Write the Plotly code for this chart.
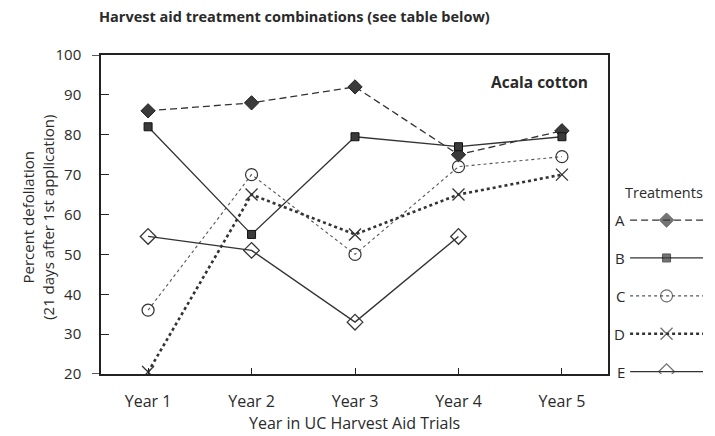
import plotly.graph_objects as go

# Data
years = ['Year 1', 'Year 2', 'Year 3', 'Year 4', 'Year 5']
treat_a = [86, 88, 92, 75, 81]
treat_b = [82, 55, 79.5, 77, 79.5]
treat_c = [36, 70, 50, 72, 74.5]
treat_d = [20.5, 65, 55, 65, 70]
treat_e = [54.5, 51, 33, 54.5, None]
treat_names = ['A', 'B', 'C', 'D', 'E']
y_ticks = [20, 30, 40, 50, 60, 70, 80, 90, 100]

FONT = 'Open Sans'
INK = '#2a2a2a'

styles = [
    dict(line=dict(color='#333', width=1.3, dash='7px,4px'),
         marker=dict(symbol='diamond', color='#3a3a3a', size=11, line=dict(color='#222', width=1))),
    dict(line=dict(color='#333', width=1.3),
         marker=dict(symbol='square', color='#3a3a3a', size=8, line=dict(color='#111', width=1))),
    dict(line=dict(color='#555', width=1.1, dash='dot'),
         marker=dict(symbol='circle-open', color='#333', size=12, line=dict(width=1.2))),
    dict(line=dict(color='#333', width=2.6, dash='dot'),
         marker=dict(symbol='x-thin-open', color='#333', size=12, line=dict(width=1.3))),
    dict(line=dict(color='#333', width=1.4),
         marker=dict(symbol='diamond-open', color='#333', size=12, line=dict(width=1.3))),
]

fig = go.Figure()
for name, vals, st in zip(treat_names, [treat_a, treat_b, treat_c, treat_d, treat_e], styles):
    fig.add_trace(go.Scatter(x=years, y=vals, name=name, mode='lines+markers',
                             line=st['line'], marker=st['marker'], showlegend=False,
                             xaxis='x', yaxis='y'))

# Custom legend: label on the left, line sample with marker in the middle
row_top = 58.6
row_step = 9.5
for i, (name, st) in enumerate(zip(treat_names, styles)):
    yv = row_top - i * row_step
    mk = dict(st['marker'])
    mk['size'] = [0, mk['size'], 0]
    fig.add_trace(go.Scatter(x=[0, 0.5, 1], y=[yv] * 3, mode='lines+markers',
                             line=st['line'], marker=mk, showlegend=False,
                             hoverinfo='skip', xaxis='x2', yaxis='y2'))
    fig.add_annotation(x=0.868, xref='paper', y=yv, yref='y2', text=name,
                       showarrow=False, xanchor='right', xshift=2,
                       font=dict(family=FONT, size=15, color=INK))

fig.add_annotation(x=0.932, xref='paper', y=(100 - (192 - 55) / 3.9875), yref='y2',
                   text='Treatments', showarrow=False, xanchor='center',
                   font=dict(family=FONT, size=14.5, color=INK))

fig.add_annotation(x=4.27, xref='x', y=93.2, yref='y', text='<b>Acala cotton</b>',
                   showarrow=False, xanchor='right',
                   font=dict(family=FONT, size=15.5, color=INK))

# axis titles placed by hand
fig.add_annotation(x=-0.104, xref='paper', y=0.49, yref='paper', textangle=-90,
                   text='Percent defoliation<br>(21 days after 1st application)',
                   showarrow=False, xanchor='center', yanchor='middle',
                   font=dict(family=FONT, size=15, color=INK))
fig.add_annotation(x=0.4203, xref='paper', y=-0.153, yref='paper',
                   text='Year in UC Harvest Aid Trials',
                   showarrow=False, xanchor='center', yanchor='middle',
                   font=dict(family=FONT, size=16, color=INK))

# top and bottom lines poke out left of the y axis
for yv in [100, 20]:
    fig.add_shape(type='line', xref='paper', yref='y', x0=-0.0149, x1=0, y0=yv, y1=yv,
                  line=dict(color='#222', width=1.5))

fig.update_layout(
    width=715, height=436,
    margin=dict(l=101, r=10, t=55, b=62),
    paper_bgcolor='white', plot_bgcolor='white',
    title=dict(text='<b>Harvest aid treatment combinations (see table below)</b>',
               x=99 / 715, xanchor='left', y=1 - 17 / 436, yanchor='middle',
               font=dict(family=FONT, size=14.5, color=INK)),
    xaxis=dict(domain=[0, 0.8394], range=[-0.455, 4.445], type='category',
               showline=True, linecolor='#222', linewidth=1.5, mirror=True,
               ticks='inside', ticklen=6, tickcolor='#222', showgrid=False,
               ticklabelstandoff=12,
               tickfont=dict(family=FONT, size=16, color=INK)),
    yaxis=dict(domain=[0, 1], range=[20, 100], tickvals=y_ticks,
               showline=True, linecolor='#222', linewidth=1.5, mirror=True,
               ticks='inside', ticklen=8, tickcolor='#222', showgrid=False,
               zeroline=False, ticklabelstandoff=15,
               tickfont=dict(family=FONT, size=15, color=INK)),
    xaxis2=dict(domain=[0.876, 0.9967], range=[0, 1], visible=False, anchor='y2'),
    yaxis2=dict(domain=[0, 1], range=[20, 100], visible=False, anchor='x2'),
)

fig.write_html('out.html', config={'displayModeBar': False},
               post_script="document.body.style.margin='0';")
